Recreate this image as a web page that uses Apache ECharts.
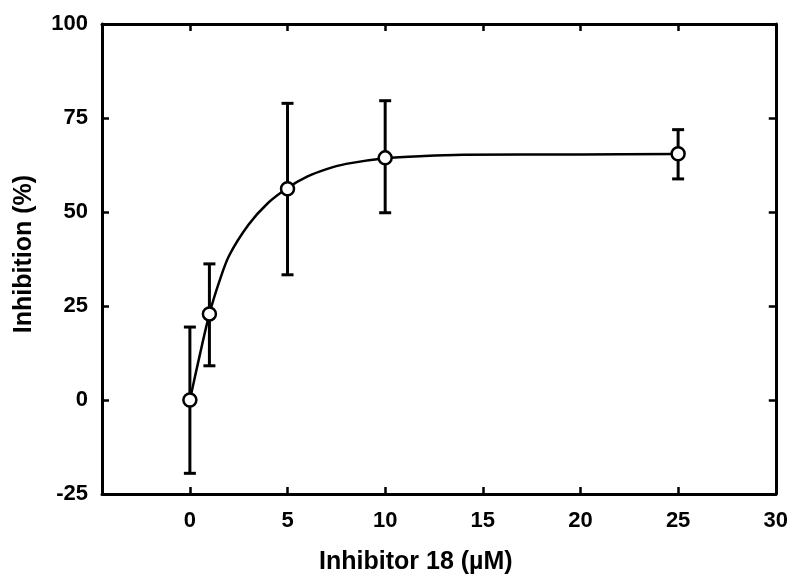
<!DOCTYPE html>
<html>
<head>
<meta charset="utf-8">
<script src="https://cdn.jsdelivr.net/npm/echarts@6/dist/echarts.min.js"></script>
<style>html,body{margin:0;padding:0;background:#fff}#c{width:791px;height:580px}</style>
</head>
<body>
<div id="c"></div>
<script>
// Measured points
const concentrations = [0, 1, 5, 10, 25];
const inhibition = [0, 22.9, 56.2, 64.4, 65.5];
const errLow = [-19.5, 9.1, 33.3, 49.8, 58.8];
const errHigh = [19.4, 36.2, 78.9, 79.6, 71.9];
// Fitted curve
const curveX = [0, 0.5, 1, 1.5, 2, 3, 4, 5, 6, 7, 8, 10, 12, 14, 20, 25];
const curveY = [0, 11.8, 22.9, 31.4, 38.3, 46.6, 52.4, 56.4, 59.4, 61.4, 62.8, 64.3, 64.9, 65.2, 65.3, 65.4];
// Tick labels
const xTicks = [0, 5, 10, 15, 20, 25, 30];
const yTicks = [-25, 0, 25, 50, 75, 100];

const FONT = '"Liberation Sans", Arial, sans-serif';
const chart = echarts.init(document.getElementById('c'));
const lineStyle = {color: '#000', width: 3};
const tickStyle = {color: '#000', width: 2.5};

chart.setOption({
  animation: false,
  backgroundColor: '#fff',
  grid: {left: 102, top: 24, right: 13, bottom: 84},
  xAxis: [{
    type: 'value', min: -4.5, max: 30, position: 'bottom',
    name: 'Inhibitor 18 (µM)', nameLocation: 'middle', nameGap: 56,
    nameTextStyle: {fontFamily: FONT, fontSize: 25, fontWeight: 'bold', color: '#000', padding: [0, 46, 0, 0]},
    axisLine: {show: true, onZero: false, lineStyle: lineStyle},
    axisTick: {show: true, inside: true, length: 7, lineStyle: tickStyle, customValues: xTicks.slice(0, -1)},
    axisLabel: {fontFamily: FONT, fontSize: 22, fontWeight: 'bold', color: '#000', margin: 16, customValues: xTicks},
    splitLine: {show: false}
  }, {
    type: 'value', min: -4.5, max: 30, position: 'top',
    axisLine: {show: true, onZero: false, lineStyle: lineStyle},
    axisTick: {show: true, inside: true, length: 7, lineStyle: tickStyle, customValues: xTicks.slice(0, -1)},
    axisLabel: {show: false},
    splitLine: {show: false}
  }],
  yAxis: [{
    type: 'value', min: -25, max: 100, interval: 25, position: 'left',
    name: 'Inhibition (%)', nameLocation: 'middle', nameGap: 65,
    nameTextStyle: {fontFamily: FONT, fontSize: 25, fontWeight: 'bold', color: '#000', padding: [0, 0, 0, 10]},
    axisLine: {show: true, onZero: false, lineStyle: lineStyle},
    axisTick: {show: true, inside: true, length: 7, lineStyle: tickStyle},
    axisLabel: {fontFamily: FONT, fontSize: 22, fontWeight: 'bold', color: '#000', margin: 14,
      customValues: yTicks},
    splitLine: {show: false}
  }, {
    type: 'value', min: -25, max: 100, interval: 25, position: 'right',
    axisLine: {show: true, onZero: false, lineStyle: lineStyle},
    axisTick: {show: true, inside: true, length: 7, lineStyle: tickStyle},
    axisLabel: {show: false},
    splitLine: {show: false}
  }],
  series: [{
    type: 'line', name: 'fit', xAxisIndex: 0, yAxisIndex: 0,
    data: curveX.map((x, i) => [x, curveY[i]]),
    smooth: 0.3, showSymbol: false, symbol: 'none',
    lineStyle: {color: '#000', width: 2.5}, z: 2
  }, {
    type: 'custom', name: 'error', xAxisIndex: 0, yAxisIndex: 0,
    data: concentrations.map((x, i) => [x, errLow[i], errHigh[i]]),
    renderItem: function (params, api) {
      const lo = api.coord([api.value(0), api.value(1)]);
      const hi = api.coord([api.value(0), api.value(2)]);
      const w = 6;
      const st = {stroke: '#000', lineWidth: 3};
      return {type: 'group', children: [
        {type: 'line', shape: {x1: hi[0], y1: hi[1], x2: lo[0], y2: lo[1]}, style: st},
        {type: 'line', shape: {x1: hi[0] - w, y1: hi[1], x2: hi[0] + w, y2: hi[1]}, style: st},
        {type: 'line', shape: {x1: lo[0] - w, y1: lo[1], x2: lo[0] + w, y2: lo[1]}, style: st}
      ]};
    },
    z: 3
  }, {
    type: 'scatter', name: 'data', xAxisIndex: 0, yAxisIndex: 0,
    data: concentrations.map((x, i) => [x, inhibition[i]]),
    symbol: 'circle', symbolSize: 13,
    itemStyle: {color: '#fff', opacity: 1, borderColor: '#000', borderWidth: 2.5},
    z: 4
  }]
});
</script>
</body>
</html>
